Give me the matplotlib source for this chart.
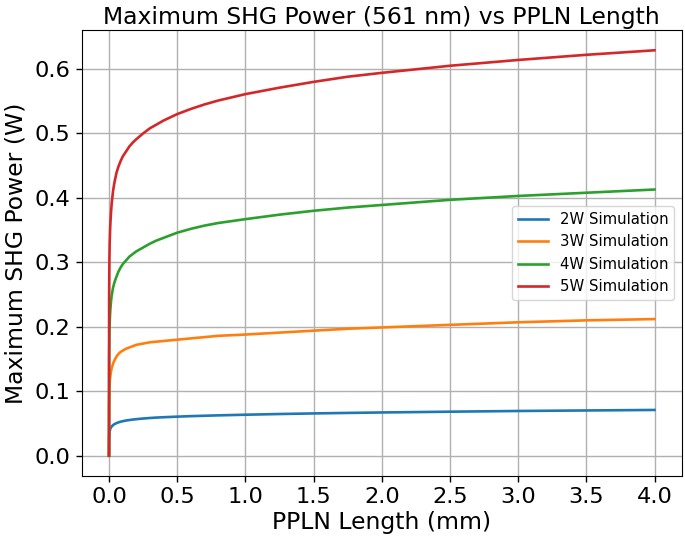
import matplotlib
matplotlib.use("Agg")
import matplotlib.pyplot as plt

length_mm = [0, 0.001, 0.003, 0.005, 0.0075, 0.01, 0.015, 0.02, 0.03, 0.04, 0.055, 0.07,
             0.085, 0.1, 0.125, 0.15, 0.175, 0.2, 0.25, 0.3, 0.35, 0.4, 0.5, 0.6, 0.7,
             0.8, 0.9, 1.0, 1.25, 1.5, 1.75, 2.0, 2.5, 3.0, 3.5, 4.0]

p_2w = [0, 0.025, 0.035, 0.038, 0.040, 0.042, 0.044, 0.0455, 0.0475, 0.049, 0.0505, 0.0518,
        0.0527, 0.0535, 0.0546, 0.0554, 0.0561, 0.0567, 0.0577, 0.0585, 0.0592, 0.0597,
        0.0606, 0.0614, 0.0620, 0.0626, 0.0631, 0.0636, 0.0647, 0.0656, 0.0664, 0.0671,
        0.0683, 0.0694, 0.0702, 0.0710]
p_3w = [0, 0.080, 0.105, 0.113, 0.119, 0.124, 0.131, 0.136, 0.143, 0.148, 0.154, 0.158,
        0.161, 0.163, 0.166, 0.168, 0.170, 0.172, 0.174, 0.176, 0.177, 0.178, 0.180,
        0.182, 0.184, 0.186, 0.187, 0.188, 0.191, 0.194, 0.197, 0.199, 0.203, 0.207,
        0.210, 0.212]
p_4w = [0, 0.150, 0.190, 0.205, 0.218, 0.227, 0.240, 0.249, 0.261, 0.269, 0.278, 0.286,
        0.292, 0.297, 0.303, 0.309, 0.313, 0.317, 0.323, 0.329, 0.334, 0.338, 0.346,
        0.352, 0.357, 0.361, 0.364, 0.367, 0.374, 0.380, 0.385, 0.389, 0.397, 0.403,
        0.408, 0.413]
p_5w = [0, 0.250, 0.305, 0.330, 0.347, 0.360, 0.378, 0.392, 0.411, 0.424, 0.439, 0.449,
        0.457, 0.464, 0.472, 0.480, 0.486, 0.491, 0.500, 0.508, 0.514, 0.520, 0.530,
        0.538, 0.545, 0.551, 0.556, 0.561, 0.571, 0.580, 0.588, 0.594, 0.605, 0.614,
        0.622, 0.629]

series = [("2W Simulation", p_2w), ("3W Simulation", p_3w),
          ("4W Simulation", p_4w), ("5W Simulation", p_5w)]

fig = plt.figure(figsize=(6.85, 5.42), dpi=100)
ax = fig.add_axes([0.1193, 0.1218, 0.876, 0.8228])

for label, vals in series:
    ax.plot(length_mm, vals, lw=1.9, label=label)

ax.set_title("Maximum SHG Power (561 nm) vs PPLN Length", fontsize=16.9, pad=4.5)
ax.set_xlabel("PPLN Length (mm)", fontsize=16.9, labelpad=3)
ax.set_ylabel("Maximum SHG Power (W)", fontsize=16.9, labelpad=5)
ax.set_xticks([0.0, 0.5, 1.0, 1.5, 2.0, 2.5, 3.0, 3.5, 4.0])
ax.set_yticks([0.0, 0.1, 0.2, 0.3, 0.4, 0.5, 0.6])
ax.tick_params(labelsize=16.2, length=4.5, width=1.0)
ax.grid(True, color="#b0b0b0", lw=1.0)
ax.legend(loc="center right", fontsize=10.7)

fig.savefig("out.png", dpi=100)
